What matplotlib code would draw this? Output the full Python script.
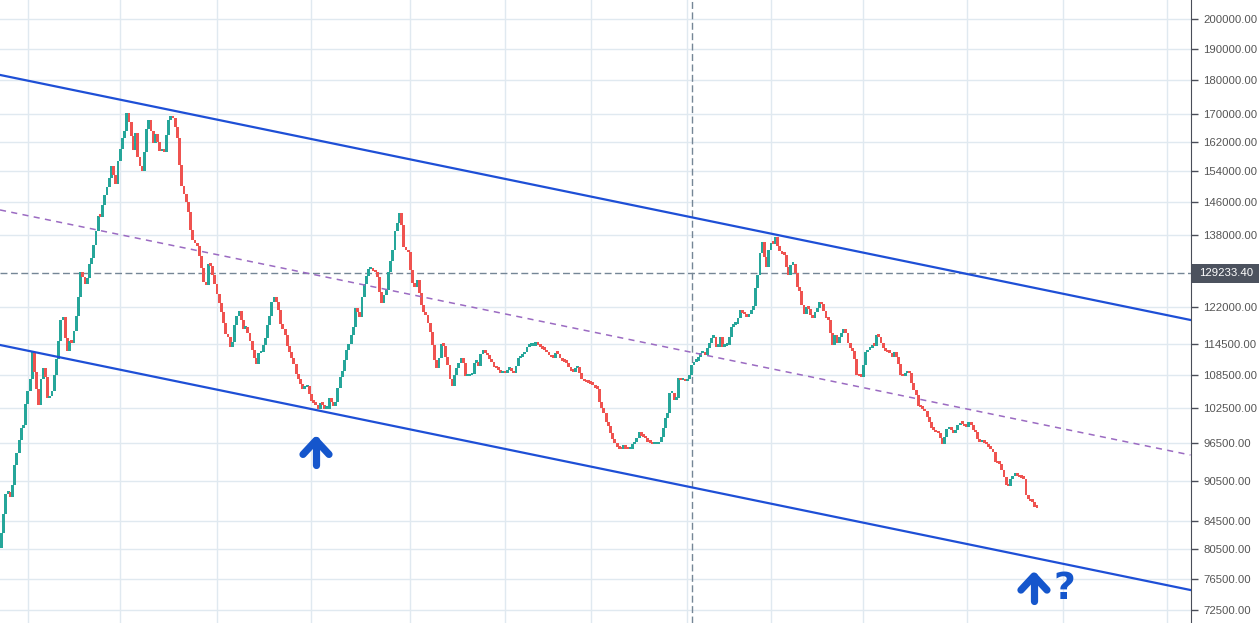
import numpy as np
import matplotlib
matplotlib.use("Agg")
from matplotlib import pyplot as plt
from matplotlib.lines import Line2D
from matplotlib.patches import Rectangle
from matplotlib.ticker import NullLocator
from matplotlib.transforms import IdentityTransform

plt.rcParams["font.family"] = ["Liberation Sans", "DejaVu Sans"]

# daily closes in thousands left to right
first_open = 80.6
closes_a = [
    82.7, 85.5, 88.5, 88.8, 88.0, 89.9, 93.0, 94.9, 97.0, 99.1,
    99.6, 103.3, 105.5, 107.8, 112.9, 109.1, 106.0, 103.1, 107.8, 109.8,
    108.2, 104.3, 104.7, 105.6, 108.5, 111.6, 115.1, 119.3, 119.9, 115.7,
    113.1, 115.1, 114.7, 117.1, 120.1, 124.1, 129.5, 128.4, 126.9, 128.2,
    131.3, 132.7, 135.7, 139.0, 142.6, 142.4, 145.3, 147.8, 149.9, 152.2,
    155.4, 153.0, 150.7, 156.7, 160.0, 163.0, 165.0, 170.2, 167.6, 163.6,
    159.7, 164.4, 157.8, 155.4, 154.1, 159.2, 165.6, 168.2, 165.0, 161.7,
    164.2, 161.9, 159.4, 160.0, 159.2, 163.9, 168.2, 169.3, 168.7, 166.1,
    163.0, 155.7, 150.2, 148.1, 146.0, 143.6, 139.2, 136.8, 136.2, 135.4,
    133.1, 130.4, 127.3, 126.7, 131.3, 130.9, 128.9, 126.9, 124.7, 122.8,
    120.9, 118.7, 116.5, 115.9, 113.9, 114.9, 118.3, 120.1, 121.1, 119.3,
    117.5,
]
closes_b = [
    117.9, 116.6, 115.0, 113.3, 111.7, 110.6, 112.7, 112.9, 114.3, 115.7,
    118.3, 120.1, 123.0, 124.1, 123.0, 121.4, 118.5, 117.4, 116.3, 114.1,
    112.9, 111.8, 110.6, 108.7, 107.8, 106.9, 106.0, 106.3, 106.5, 105.0,
    103.8, 103.5, 103.1, 102.4, 103.4, 103.1, 102.4, 102.4, 104.3, 103.6,
    102.9, 103.6, 106.1, 108.2, 109.3, 111.4, 113.3, 114.5, 116.3, 117.9,
    121.8, 120.9, 119.9, 124.1, 126.9, 128.6, 130.2, 130.4, 129.7, 129.5,
    128.4, 125.2, 122.8, 124.5, 125.6, 129.5, 132.0, 134.5, 139.0, 141.0,
    143.3, 140.4, 135.2, 134.6, 134.0, 130.0, 127.1, 126.2, 127.8, 124.9,
    122.4, 120.9, 120.3, 118.7, 116.9, 114.3, 111.4, 109.8, 111.7, 114.5,
    114.1, 111.9, 110.4, 107.8, 106.5, 108.5, 109.8, 110.8, 111.7, 110.8,
    108.3, 108.3, 108.5, 108.7, 110.8, 111.0, 110.2, 112.5, 113.3, 112.7,
    112.3, 111.6, 111.0, 110.0, 109.8, 109.5, 108.9, 109.3, 108.9, 109.5,
    109.7, 109.3, 108.9, 110.2, 111.7, 111.9, 112.5, 112.9, 113.9, 114.1,
    114.1, 114.1, 114.9, 114.3, 113.9, 113.5, 113.3,
]
closes_c = [
    112.9, 112.3, 111.9, 111.8, 112.7, 112.6, 111.7, 111.2, 111.0, 110.8,
    110.0, 109.3, 109.1, 109.8, 110.0, 108.9, 107.8, 107.4, 107.2, 107.1,
    106.9, 106.7, 106.1, 106.0, 103.6, 102.6, 101.7, 100.1, 99.4, 98.2,
    97.2, 96.6, 95.9, 95.6, 95.5, 96.2, 95.6, 95.5, 95.5, 96.4,
    96.7, 97.4, 98.4, 97.7, 97.6, 97.4, 96.7, 96.6, 96.4, 96.4,
    96.4, 96.7, 97.6, 99.1, 100.8, 101.7, 105.2, 105.2, 104.0, 104.3,
    108.0, 107.6, 107.6, 107.4, 107.8, 108.5, 110.4, 111.0, 111.2, 111.9,
    112.7, 112.9, 112.3, 113.7, 114.7, 115.7, 115.9, 113.9, 113.9, 115.9,
    113.9, 114.1, 114.3, 115.9, 117.9, 118.3, 118.5, 119.7, 121.4, 120.7,
    120.5, 119.9, 120.5, 121.4, 122.2, 126.0, 128.9, 133.8, 136.4, 132.9,
    130.7, 134.5, 136.1, 136.0, 137.5, 135.4, 134.3, 133.6, 133.4, 130.7,
    128.9,
]
closes_d = [
    131.1, 131.3, 129.3, 126.2, 125.4, 122.4, 120.5, 121.9, 121.6, 120.3,
    119.7, 120.9, 121.8, 123.0, 122.6, 121.1, 119.7, 119.3, 116.6, 114.3,
    116.3, 114.7, 115.9, 116.6, 117.5, 116.6, 114.7, 113.7, 113.1, 111.6,
    108.5, 108.3, 108.2, 110.4, 112.9, 113.3, 113.7, 114.3, 114.1, 116.3,
    115.9, 114.7, 113.7, 113.1, 112.9, 112.8, 111.9, 112.9, 111.9, 110.6,
    108.5, 108.3, 108.9, 109.3, 108.9, 107.0, 105.8, 104.9, 102.9, 102.7,
    102.4, 102.0, 101.0, 100.1, 99.1, 98.8, 98.4, 98.2, 97.4, 96.4,
    97.6, 98.9, 99.1, 98.8, 98.2, 98.8, 99.6, 100.0, 99.8, 99.4,
    99.3, 100.1, 99.6, 98.8, 98.4, 97.2, 96.7, 96.9, 96.6, 96.4,
    95.9, 95.6, 95.1, 93.5, 93.3, 93.2, 92.2, 91.1, 89.9, 89.7,
    90.8, 91.3, 91.6, 91.3, 91.1, 91.0, 90.8, 88.3, 87.7, 87.4,
    87.3, 86.5, 86.4,
]

y_ticks = [200000, 190000, 180000, 170000, 162000, 154000, 146000, 138000,
           122000, 114500, 108500, 102500, 96500, 90500, 84500, 80500,
           76500, 72500]
x_grid = [12, 54, 98, 141, 186, 229, 268, 312, 350, 392, 439, 483, 530]

cross_x = 314.1
cross_price = 129233.40

# channel drawn across the whole pane
chan_x = [-0.68, 540.8]
chan_upper = [181660, 119280]
chan_mid = [144080, 94600]
chan_lower = [114270, 75030]

arrow_spots = [(143.05, 97000), (469.6, 76850)]
question_spot = (483.3, 73900)

GREEN = "#26a69a"
RED = "#ef5350"
BLUE = "#1e4fd6"
ICON = "#1556cc"

closes = np.array(closes_a + closes_b + closes_c + closes_d) * 1000
opens = np.r_[first_open * 1000, closes[:-1]]
idx = np.arange(len(closes))
colors = np.where(closes >= opens, GREEN, RED)
lo = np.minimum(opens, closes)
hi = np.maximum(opens, closes)
height = np.maximum(hi - lo, hi * 0.0042)

fig = plt.figure(figsize=(12.59, 6.23), dpi=100)
ax = fig.add_axes([0, 0, 1190.5 / 1259, 1])
ax.set_yscale("log")

ax.bar(idx, height, bottom=lo, width=1.3, color=colors, linewidth=0, zorder=3)

ax.plot(chan_x, chan_upper, color=BLUE, lw=1.6, zorder=4)
ax.plot(chan_x, chan_lower, color=BLUE, lw=1.6, zorder=4)
ax.plot(chan_x, chan_mid, color="#9b6bc2", lw=1.1, dashes=(4, 3.5), zorder=4)

ax.axhline(cross_price, color="#758696", lw=1, dashes=(5, 2.5), zorder=2)
ax.axvline(cross_x, color="#758696", lw=1, dashes=(5, 2.5), zorder=2)

ax.set_xlim(chan_x)
ax.set_ylim(70900, 206600)

ax.yaxis.tick_right()
ax.set_yticks(y_ticks)
ax.set_yticklabels([f"{t:.2f}" for t in y_ticks])
ax.yaxis.set_minor_locator(NullLocator())
ax.set_xticks(x_grid)
ax.set_xticklabels([])
ax.tick_params(axis="x", length=0)
ax.tick_params(axis="y", length=5, width=1, color="#4a4e59", labelsize=8.2,
               labelcolor="#555555", pad=4)
ax.grid(True, color="#e0e9f0", lw=1)
ax.set_axisbelow(True)
for s in ["top", "left", "bottom"]:
    ax.spines[s].set_visible(False)
ax.spines["right"].set_color("#4a4e59")

# price label of the crosshair
_, yc = ax.transData.transform((0, cross_price))
fig.add_artist(Rectangle((1191.5, yc - 9.5), 68, 19, transform=IdentityTransform(),
                         facecolor="#4c525e", edgecolor="none", zorder=6))
fig.text(1199 / 1259, yc / 623, f"{cross_price:.2f}", color="white", fontsize=8.2,
         va="center", ha="left", zorder=7)

# up arrow icons
for i, p in arrow_spots:
    x0, y0 = ax.transData.transform((i, p))
    kw = dict(color=ICON, lw=5.2, solid_capstyle="round", solid_joinstyle="round",
              transform=IdentityTransform(), zorder=6)
    fig.add_artist(Line2D([x0 - 13, x0, x0 + 13], [y0 - 14, y0, y0 - 14], **kw))
    fig.add_artist(Line2D([x0, x0], [y0, y0 - 25], **kw))

ax.text(question_spot[0], question_spot[1], "?", color=ICON, fontsize=27,
        fontweight="bold", family="DejaVu Sans", ha="center", va="baseline", zorder=6)

fig.savefig("out.png", dpi=100)
